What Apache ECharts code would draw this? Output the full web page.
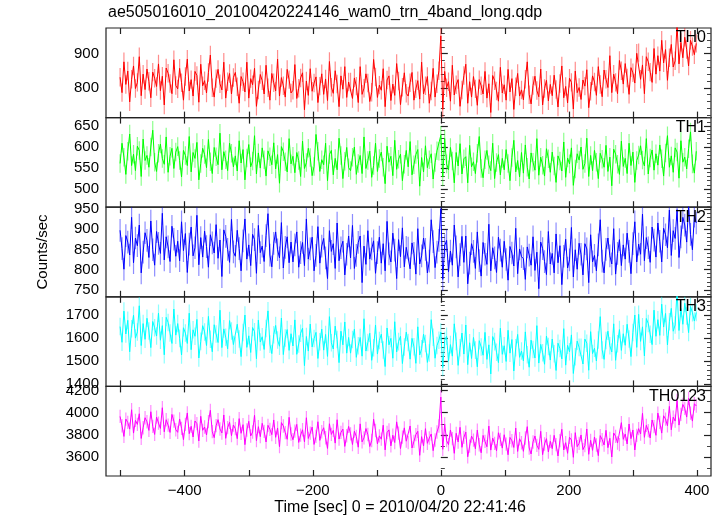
<!DOCTYPE html>
<html><head><meta charset="utf-8">
<script src="https://cdn.jsdelivr.net/npm/echarts@6/dist/echarts.min.js"></script>
<style>html,body{margin:0;padding:0;background:#fff}#c{width:723px;height:516px}</style>
</head><body><div id="c"></div>
<script>
const chartTitle = 'ae505016010_20100420224146_wam0_trn_4band_long.qdp';
const xName = 'Time [sec] 0 = 2010/04/20 22:41:46';
const yName = 'Counts/sec';
const bandNames = ['TH0', 'TH1', 'TH2', 'TH3', 'TH0123'];
const bandColors = ['#ff0000', '#00ff00', '#0000ff', '#00ffff', '#ff00ff'];
const tStart = -501, binSize = 3;
const xRange = [-523, 422];
const xTicks = [-500, -400, -300, -200, -100, 0, 100, 200, 300, 400];
const xLabels = [-400, -200, 0, 200, 400];

const yRanges = [[713, 975], [457, 670], [733, 954], [1390, 1778], [3430, 4236]];
const yMajor = [[800, 900], [500, 550, 600, 650], [750, 800, 850, 900, 950], [1400, 1500, 1600, 1700], [3600, 3800, 4000, 4200]];
const yMinorStep = [20, 10, 10, 20, 100];
const errs = [27, 22, 28, 38, 60];

const th0 = [
831,786,876,810,849,759,825,864,798,816,891,777,840,795,855,819,771,846,828,804,870,792,834,750,858,843,813,783,882,807,
797,857,815,764,833,884,791,824,776,848,836,758,869,806,821,785,845,896,800,773,827,854,812,794,875,770,818,842,782,830,
845,803,755,833,818,788,875,770,827,809,857,746,794,839,821,782,866,800,764,842,815,791,884,776,830,806,773,854,824,785,
793,868,769,799,829,844,736,820,778,856,790,814,832,757,805,841,781,826,763,877,802,784,850,811,745,835,796,862,772,817,
817,769,829,805,757,862,781,799,841,814,760,787,883,832,772,808,793,856,745,823,835,763,811,778,871,820,751,802,844,784,
776,815,845,764,797,821,767,875,782,806,833,755,791,857,773,812,850,952,737,848,800,818,761,866,779,809,824,746,794,836,
869,755,818,773,833,797,749,824,806,782,848,770,812,728,836,821,791,761,860,785,809,764,854,788,827,737,803,842,776,794,
765,825,876,780,753,807,834,792,774,855,750,798,822,762,810,777,837,795,744,813,864,771,804,756,828,816,738,849,786,801,
766,823,805,853,742,790,835,817,778,862,810,774,852,825,801,894,786,840,816,783,880,850,811,871,829,781,859,844,814,901,
903,825,867,783,891,876,846,816,915,840,894,849,939,873,912,822,888,927,861,879,984,870,933,888,948,912,864,939,921,897,
930];

const th1 = [
561,609,576,535,590,631,556,583,544,602,592,530,619,568,580,552,600,640,564,542,585,607,573,559,624,540,578,597,549,588,
601,568,529,592,580,556,625,541,587,573,611,522,561,597,582,551,618,565,537,599,577,558,633,546,589,570,544,609,585,553,
579,543,615,562,594,522,574,606,553,567,627,536,586,550,598,570,531,591,577,558,610,548,582,514,601,589,565,541,620,560,
578,539,587,568,530,614,549,563,597,575,532,554,630,590,542,570,558,609,520,582,592,534,573,546,621,580,525,566,599,551,
544,576,600,535,561,580,537,624,549,568,590,528,556,609,542,573,588,552,513,602,564,578,532,616,547,571,583,520,559,592,
553,613,534,558,582,594,507,575,541,603,551,570,584,524,563,591,590,628,529,620,560,546,599,567,515,587,555,608,536,572,
577,515,604,553,565,537,585,625,549,527,570,592,558,544,609,525,563,582,534,573,546,594,561,520,575,616,541,568,529,587,
538,605,552,524,586,564,545,620,533,576,557,531,596,572,540,588,555,516,579,567,543,612,528,574,560,598,509,548,584,569,
600,547,561,621,530,580,544,592,564,525,585,571,552,604,542,576,508,595,583,559,535,614,554,573,537,609,556,588,516,568,
581,603,569,555,620,536,574,593,545,584,557,605,572,531,586,627,552,579,540,598,588,526,615,564,576,548,596,636,560,538,
590];

const th2 = [
897,852,801,884,868,836,929,817,878,859,910,792,843,891,872,830,920,849,811,894,865,840,939,824,881,856,820,907,875,833,
870,822,918,847,889,793,863,905,834,854,934,812,879,831,895,857,806,886,866,841,911,828,873,783,898,882,850,818,924,844,
833,897,852,797,871,925,826,861,810,887,874,791,909,842,858,820,884,938,836,807,865,893,849,829,916,804,855,881,817,868,
819,861,893,806,842,867,810,925,826,851,880,797,835,906,816,858,877,829,778,896,845,864,803,915,822,854,870,787,838,883,
829,909,803,835,867,883,768,858,813,896,826,851,871,791,842,880,816,864,797,919,839,819,890,848,778,874,832,903,807,855,
853,802,866,840,789,901,814,834,878,850,792,821,923,869,805,843,872,950,776,859,872,795,846,811,910,856,782,837,882,818,
883,765,816,864,845,803,893,822,784,867,838,813,912,797,854,829,793,880,848,806,870,825,774,857,841,809,902,790,851,832,
827,776,856,836,811,881,798,843,753,868,852,820,788,894,814,840,792,888,817,859,763,833,875,804,824,904,782,849,801,865,
838,787,864,851,768,886,819,835,797,861,923,821,792,850,878,834,814,901,789,840,874,810,861,826,890,845,790,864,918,819,
863,838,937,822,879,854,818,905,873,831,915,870,819,902,886,854,947,835,896,877,948,830,881,929,910,868,958,887,849,932,
915];

const th3 = [
1649,1581,1716,1617,1676,1540,1640,1698,1599,1626,1739,1567,1662,1594,1685,1630,1558,1671,1644,1608,1707,1590,1653,1527,1689,1667,1621,1576,1725,1612,
1662,1598,1526,1644,1621,1576,1707,1549,1635,1607,1680,1513,1585,1653,1626,1567,1693,1594,1540,1657,1617,1580,1720,1558,1639,1603,1553,1675,1630,1571,
1568,1659,1595,1519,1623,1699,1559,1609,1537,1645,1627,1510,1677,1582,1605,1550,1641,1717,1573,1532,1614,1654,1591,1564,1686,1528,1600,1636,1546,1618,
1565,1678,1529,1574,1620,1642,1480,1606,1543,1660,1561,1597,1624,1511,1583,1638,1547,1615,1520,1692,1579,1552,1651,1593,1493,1629,1570,1669,1534,1602,
1534,1593,1638,1516,1566,1602,1521,1683,1543,1580,1620,1503,1557,1656,1530,1589,1616,1548,1476,1643,1570,1598,1512,1670,1539,1584,1607,1489,1561,1625,
1580,1508,1598,1562,1490,1648,1526,1553,1616,1576,1494,1535,1679,1603,1512,1567,1590,1625,1472,1589,1607,1499,1571,1521,1661,1585,1481,1557,1621,1530,
1656,1484,1579,1511,1602,1547,1475,1588,1561,1525,1624,1507,1570,1444,1606,1584,1538,1493,1642,1529,1566,1498,1633,1534,1593,1457,1557,1615,1516,1543,
1500,1626,1527,1473,1590,1550,1513,1653,1491,1572,1536,1486,1608,1563,1504,1595,1531,1459,1577,1554,1509,1640,1482,1568,1540,1613,1446,1518,1586,1559,
1559,1487,1595,1577,1460,1627,1532,1555,1500,1591,1692,1548,1507,1589,1629,1566,1539,1661,1503,1575,1636,1546,1618,1568,1659,1595,1519,1623,1699,1559,
1702,1585,1648,1522,1684,1662,1616,1571,1720,1607,1679,1611,1746,1647,1706,1570,1670,1728,1629,1656,1804,1632,1727,1659,1750,1695,1623,1736,1709,1673,
1710];

const th0123 = [
3966,3882,3786,3942,3912,3852,4026,3816,3930,3894,3990,3768,3864,3954,3918,3840,4008,3876,3804,3960,3906,3858,4044,3828,3936,3888,3822,3984,3924,3846,
3823,3943,3859,3757,3895,3997,3811,3877,3781,3925,3901,3745,3967,3841,3871,3799,3919,4021,3829,3775,3883,3937,3853,3817,3979,3769,3865,3913,3793,3889,
3856,3766,3946,3814,3892,3712,3844,3922,3790,3826,3976,3748,3874,3784,3904,3832,3736,3886,3850,3802,3934,3778,3862,3694,3910,3880,3820,3760,3958,3808,
3756,3834,3894,3732,3798,3846,3738,3954,3768,3816,3870,3714,3786,3918,3750,3828,3864,3774,3678,3900,3804,3840,3726,3936,3762,3822,3852,3696,3792,3876,
3809,3713,3833,3785,3689,3899,3737,3773,3857,3803,3695,3749,3941,3839,3719,3791,3761,3887,3665,3821,3845,3701,3797,3731,3917,3815,3677,3779,3863,3743,
3730,3880,3682,3742,3802,3832,3616,3784,3700,3856,3724,3772,3808,3658,3754,3826,3880,4140,3670,3898,3748,3712,3844,3766,3634,3814,3736,3868,3688,3778,
3825,3603,3699,3789,3753,3675,3843,3711,3639,3795,3741,3693,3879,3663,3771,3723,3657,3819,3759,3681,3801,3717,3621,3777,3747,3687,3861,3651,3765,3729,
3652,3772,3874,3682,3628,3736,3790,3706,3670,3832,3622,3718,3766,3646,3742,3676,3796,3712,3610,3748,3850,3664,3730,3634,3778,3754,3598,3820,3694,3724,
3799,3667,3703,3853,3625,3751,3661,3781,3709,3613,3793,3757,3709,3841,3685,3769,3601,3817,3787,3727,3712,3910,3760,3808,3718,3898,3766,3844,3664,3796,
3856,3808,3994,3778,3886,3838,3772,3934,3874,3796,3996,3912,3816,3972,3942,3882,4056,3846,3960,3924,4110,3888,3984,4074,4038,3960,4128,3996,3924,4080,
4060];

const bands = [th0, th1, th2, th3, th0123];

const FONT = "'Liberation Sans', Arial, Helvetica, sans-serif";
const L = 106, R = 12, TOP = 28, BOTTOM = 476;
const PH = (BOTTOM - TOP) / bands.length;

const grids = [], xAxes = [], yAxes = [], series = [], graphics = [];

bands.forEach((vals, i) => {
  const top = TOP + i * PH;
  grids.push({left: L, right: R, top: top, height: PH, show: true, borderColor: '#222', borderWidth: 1.2, backgroundColor: 'transparent'});
  const isLast = i === bands.length - 1;
  ['bottom', 'top'].forEach(pos => {
    xAxes.push({
      type: 'value', gridIndex: i, position: pos, min: xRange[0], max: xRange[1],
      axisLine: {show: false}, splitLine: {show: false},
      axisTick: {show: true, inside: true, length: 6, customValues: xTicks, lineStyle: {color: '#222', width: 1.2}},
      axisLabel: {show: isLast && pos === 'bottom', customValues: xLabels, margin: 7,
        fontFamily: FONT, fontSize: 15, color: '#000',
        formatter: v => (v < 0 ? '\u2212' + Math.abs(v) : String(v))}
    });
  });
  const [ymin, ymax] = yRanges[i];
  const minors = [];
  const st = yMinorStep[i];
  for (let v = Math.ceil(ymin / st) * st; v <= ymax; v += st) {
    if (yMajor[i].indexOf(v) < 0) minors.push(v);
  }
  ['left', 'right'].forEach(pos => {
    yAxes.push({
      type: 'value', gridIndex: i, position: pos, min: ymin, max: ymax,
      axisLine: {show: false}, splitLine: {show: false},
      axisTick: {show: true, inside: true, length: 7, customValues: yMajor[i], lineStyle: {color: '#222', width: 1.2}},
      axisLabel: {show: pos === 'left', customValues: yMajor[i], margin: 7,
        fontFamily: FONT, fontSize: 15, color: '#000', formatter: v => String(v)}
    });
    yAxes.push({
      type: 'value', gridIndex: i, position: pos, min: ymin, max: ymax,
      axisLine: {show: false}, splitLine: {show: false},
      axisTick: {show: true, inside: true, length: 4, customValues: minors, lineStyle: {color: '#444', width: 1}},
      axisLabel: {show: false}
    });
  });
  const pts = vals.map((v, k) => [tStart + k * binSize, v, errs[i]]);
  const col = bandColors[i];
  series.push({
    type: 'custom', xAxisIndex: 2 * i, yAxisIndex: 4 * i, clip: true, silent: true,
    data: pts,
    renderItem: (params, api) => {
      const x = api.value(0), y = api.value(1), e = api.value(2);
      const p1 = api.coord([x, y - e]), p2 = api.coord([x, y + e]);
      return {type: 'line', shape: {x1: p1[0], y1: p1[1], x2: p2[0], y2: p2[1]},
        style: {stroke: col, lineWidth: 1.2, opacity: 0.45}};
    },
    z: 2
  });
  series.push({
    type: 'line', xAxisIndex: 2 * i, yAxisIndex: 4 * i, data: pts.map(p => [p[0], p[1]]),
    showSymbol: false, clip: true, silent: true,
    lineStyle: {color: col, width: 1}, z: 3
  });
  graphics.push({type: 'text', right: 17, top: top + 2, z: 10,
    style: {text: bandNames[i], font: '16px ' + FONT, fill: '#000'}});
});

graphics.push({type: 'text', left: L + 2, top: 5, style: {text: chartTitle, font: '16px ' + FONT, fill: '#000'}});
graphics.push({type: 'text', x: 400, y: 508, style: {text: xName, font: '16px ' + FONT, fill: '#000', align: 'center', verticalAlign: 'middle'}});
graphics.push({type: 'text', x: 43, y: 252, rotation: Math.PI / 2, style: {text: yName, font: '15px ' + FONT, fill: '#000', align: 'center', verticalAlign: 'middle'}});

const chart = echarts.init(document.getElementById('c'), null, {renderer: 'canvas'});
chart.setOption({
  animation: false,
  backgroundColor: '#fff',
  grid: grids, xAxis: xAxes, yAxis: yAxes, series: series, graphic: graphics
});
</script></body></html>
